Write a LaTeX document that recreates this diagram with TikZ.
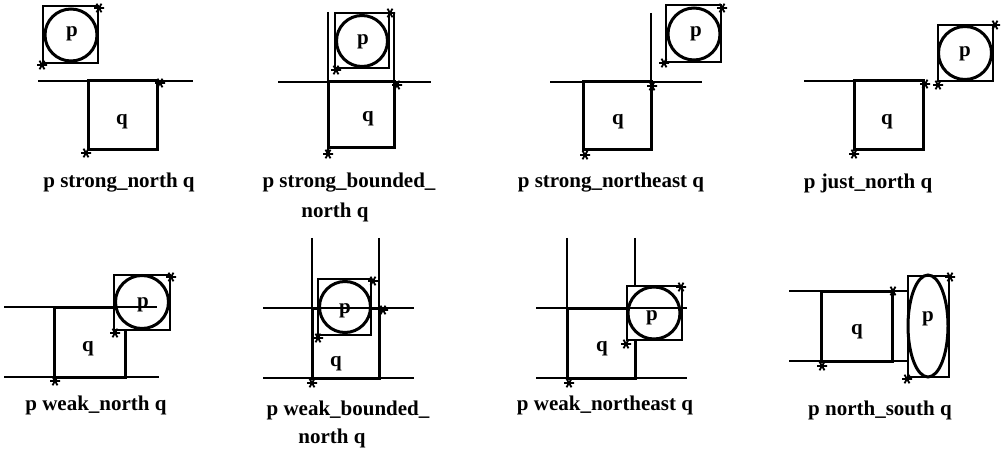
\documentclass[tikz,border=0pt]{standalone}
\usepackage{fontspec}
\setmainfont{Liberation Serif}
\usetikzlibrary{shapes.geometric}
\begin{document}
\begin{tikzpicture}[x=1pt,y=-1pt,
  thinl/.style={line width=1.2pt},
  qbox/.style={draw,rectangle,line width=3pt,inner sep=0pt},
  pbox/.style={draw,rectangle,line width=1.2pt,fill=white,inner sep=0pt},
  pcirc/.style={draw,circle,line width=3pt,inner sep=0pt},
  pell/.style={draw,ellipse,line width=3pt,inner sep=0pt},
  lbl/.style={font=\fontsize{21}{24}\selectfont\bfseries,inner sep=0pt},
  capt/.style={font=\fontsize{21}{24}\selectfont\bfseries,inner sep=0pt},
  astk/.pic={\draw[line width=1.8pt] (-5,0)--(5,0) (-2.5,-4.3)--(2.5,4.3) (-2.5,4.3)--(2.5,-4.3);}
]
\newcommand\rectnode[6]{\node[#1,minimum width={#5-#3},minimum height={#6-#4}] (#2) at ({(#3+#5)/2},{(#4+#6)/2}) {};}
\useasboundingbox (0,0) rectangle (1004,457);
\fill[white] (0,0) rectangle (1004,457);

% ---------- Panel 1: strong_north ----------
\rectnode{qbox}{q1}{88}{81}{157}{150}
\rectnode{pbox}{p1}{43}{6}{98}{63}
\node[pcirc,minimum size=52pt] (c1) at (71,35) {};
\draw[thinl] (38,81) -- (193,81);
\node[lbl] (tp1) at (72,34) {p};
\node[lbl] (tq1) at (122,122) {q};
\pic at (99,8) {astk}; \pic at (42,65) {astk};
\pic at (160,83) {astk}; \pic at (86,153) {astk};
\node[capt] (l1) at (119,183) {p strong\_north q};

% ---------- Panel 2: strong_bounded_north ----------
\draw[thinl] (328,12) -- (328,153);
\draw[thinl] (394,12) -- (394,148);
\rectnode{qbox}{q2}{328}{82}{394}{148}
\rectnode{pbox}{p2}{335}{13}{389}{68}
\node[pcirc,minimum size=51pt] (c2) at (362,41) {};
\draw[thinl] (278,82) -- (431,82);
\node[lbl] (tp2) at (363,42) {p};
\node[lbl] (tq2) at (368,119) {q};
\pic at (390,13) {astk}; \pic at (336,70) {astk};
\pic at (397,85) {astk}; \pic at (328,154) {astk};
\node[capt] (l2a) at (349,183) {p strong\_bounded\_};
\node[capt] (l2b) at (335,212) {north q};

% ---------- Panel 3: strong_northeast ----------
\draw[thinl] (651,13) -- (651,82);
\rectnode{qbox}{q3}{583}{82}{651}{150}
\rectnode{pbox}{p3}{666}{5}{721}{62}
\node[pcirc,minimum size=52pt] (c3) at (694,34) {};
\draw[thinl] (550,82) -- (702,82);
\node[lbl] (tp3) at (696,34) {p};
\node[lbl] (tq3) at (618,122) {q};
\pic at (722,8) {astk}; \pic at (664,63) {astk};
\pic at (652,86) {astk}; \pic at (585,155) {astk};
\node[capt] (l3) at (611,183) {p strong\_northeast q};

% ---------- Panel 4: just_north ----------
\draw[thinl] (804,81) -- (854,81);
\rectnode{qbox}{q4}{854}{81}{923}{150}
\rectnode{pbox}{p4}{938}{25}{993}{81}
\node[pcirc,minimum size=53pt] (c4) at (965,53) {};
\node[lbl] (tp4) at (965,54) {p};
\node[lbl] (tq4) at (887,122) {q};
\pic at (995,25) {astk}; \pic at (938,85) {astk};
\pic at (925,84) {astk}; \pic at (854,154) {astk};
\node[capt] (l4) at (868,183) {p just\_north q};

% ---------- Panel 5: weak_north ----------
\rectnode{qbox}{q5}{54}{307}{125}{377}
\rectnode{pbox}{p5}{114}{275}{170}{330}
\node[pcirc,minimum size=53pt] (c5) at (142,302) {};
\draw[thinl] (4,307) -- (157,307);
\draw[thinl] (4,377) -- (159,377);
\node[lbl] (tp5) at (143,305) {p};
\node[lbl] (tq5) at (88,349) {q};
\pic at (171,277) {astk}; \pic at (115,333) {astk};
\pic at (55,381) {astk};
\node[capt] (l5) at (96,405) {p weak\_north q};

% ---------- Panel 6: weak_bounded_north ----------
\draw[thinl] (312,238) -- (312,378);
\draw[thinl] (379,238) -- (379,378);
\rectnode{qbox}{q6}{312}{308}{379}{378}
\rectnode{pbox}{p6}{318}{279}{371}{335}
\node[pcirc,minimum size=51pt] (c6) at (345,307) {};
\draw[thinl] (263,308) -- (414,308);
\draw[thinl] (263,378) -- (414,378);
\node[lbl] (tp6) at (345,311) {p};
\node[lbl] (tq6) at (336,364) {q};
\pic at (373,281) {astk}; \pic at (318,338) {astk};
\pic at (383,310) {astk}; \pic at (312,383) {astk};
\node[capt] (l6a) at (348,410) {p weak\_bounded\_};
\node[capt] (l6b) at (332,438) {north q};

% ---------- Panel 7: weak_northeast ----------
\draw[thinl] (567,238) -- (567,378);
\draw[thinl] (635,238) -- (635,378);
\rectnode{qbox}{q7}{567}{308}{635}{378}
\rectnode{pbox}{p7}{627}{286}{682}{340}
\node[pcirc,minimum size=52pt] (c7) at (654,313) {};
\draw[thinl] (536,308) -- (687,308);
\draw[thinl] (536,378) -- (687,378);
\node[lbl] (tp7) at (652,318) {p};
\node[lbl] (tq7) at (602,349) {q};
\pic at (681,287) {astk}; \pic at (626,344) {astk};
\pic at (569,383) {astk};
\node[capt] (l7) at (605,405) {p weak\_northeast q};

% ---------- Panel 8: north_south ----------
\draw[thinl] (789,291) -- (908,291);
\draw[thinl] (789,361) -- (908,361);
\rectnode{qbox}{q8}{821}{291}{892}{361}
\rectnode{pbox}{p8}{908}{276}{949}{377}
\node[pell,minimum width=40pt,minimum height=102pt] (e8) at (928,326) {};
\node[lbl] (tp8) at (928,319) {p};
\node[lbl] (tq8) at (857,332) {q};
\pic at (950,277) {astk}; \pic at (907,379) {astk};
\pic at (893,291) {astk}; \pic at (822,366) {astk};
\node[capt] (l8) at (880,410) {p north\_south q};
\end{tikzpicture}
\end{document}
